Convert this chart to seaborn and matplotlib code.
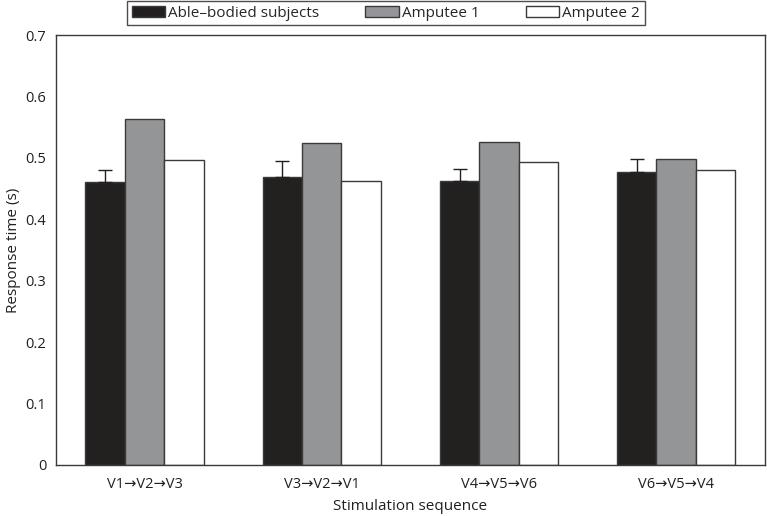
import matplotlib
matplotlib.use("Agg")
import matplotlib.pyplot as plt
import seaborn as sns
import pandas as pd
import numpy as np
from matplotlib.patches import Patch

categories = ["V1\u2192V2\u2192V3", "V3\u2192V2\u2192V1", "V4\u2192V5\u2192V6", "V6\u2192V5\u2192V4"]
series_names = ["Able\u2013bodied subjects", "Amputee 1", "Amputee 2"]
able = [0.461, 0.469, 0.462, 0.477]
able_err = [0.019, 0.026, 0.020, 0.021]
amp1 = [0.563, 0.524, 0.526, 0.499]
amp2 = [0.497, 0.462, 0.494, 0.480]
colors = ["#231f20", "#939598", "#ffffff"]

sns.set_theme(style="white")
plt.rcParams['font.family'] = ['Open Sans', 'DejaVu Sans']

rows = []
for name, vals in zip(series_names, [able, amp1, amp2]):
    for c, v in zip(categories, vals):
        rows.append({"seq": c, "group": name, "val": v})
df = pd.DataFrame(rows)

fig = plt.figure(figsize=(7.67, 5.16), dpi=100)
ax = fig.add_axes([0.073, 0.099, 0.924, 0.833])
sns.barplot(data=df, x="seq", y="val", hue="group", order=categories,
            hue_order=series_names, palette=colors, width=0.667,
            edgecolor="#3a3a3a", linewidth=1.0, errorbar=None, legend=False, ax=ax)

# error bars on able-bodied bars (upper only)
able_patches = ax.patches[:len(categories)]
xs = [p.get_x() + p.get_width() / 2 for p in able_patches]
ax.errorbar(xs, able, yerr=[np.zeros(len(able)), able_err], fmt="none",
            ecolor="#231f20", elinewidth=1.0, capsize=5, capthick=1.0)

ax.set_ylim(0, 0.7)
ax.set_xlim(-0.5, 3.5)
ax.set_yticks(np.arange(0, 0.71, 0.1))
ax.set_yticklabels(["0", "0.1", "0.2", "0.3", "0.4", "0.5", "0.6", "0.7"])
ax.tick_params(axis="y", length=0, labelsize=10.5, colors="#231f20", pad=7)
ax.tick_params(axis="x", length=0, labelsize=10.5, colors="#231f20", pad=9)
ax.set_xlabel("Stimulation sequence", fontsize=11, color="#231f20", labelpad=5)
ax.set_ylabel("Response time (s)", fontsize=11, color="#231f20", labelpad=3)
for s in ax.spines.values():
    s.set_visible(True)
    s.set_color("#3a3a3a")
    s.set_linewidth(1.0)

handles = [Patch(facecolor=c, edgecolor="#3a3a3a", linewidth=1.0) for c in colors]
leg = fig.legend(handles, series_names, loc="upper center", bbox_to_anchor=(0.503, 1.013),
                 ncol=3, fontsize=11, frameon=True, fancybox=False,
                 handlelength=2.2, handleheight=0.8, handletextpad=0.2,
                 columnspacing=3.0, borderpad=0.3)
leg.get_frame().set_edgecolor("#231f20")
leg.get_frame().set_linewidth(1.0)

fig.savefig("out.png", dpi=100)
